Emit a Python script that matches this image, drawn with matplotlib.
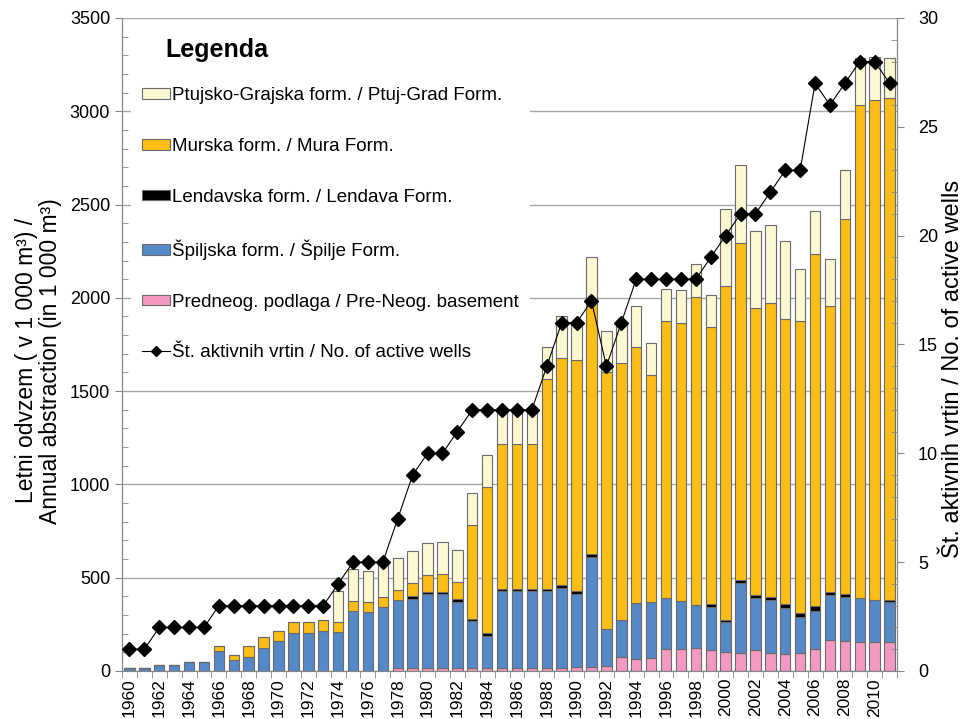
#!/usr/bin/env python

# Annual groundwater abstraction by formation + number of active wells
# stacked bars on the left axis, wells line on the right axis

import numpy as np
import matplotlib
matplotlib.use("Agg")
import matplotlib.pyplot as plt
from matplotlib.patches import Patch
from matplotlib.lines import Line2D
from matplotlib.ticker import MultipleLocator, FixedLocator

plt.rcParams['font.family'] = ['Liberation Sans', 'DejaVu Sans']

years = list(range(1960, 2012))

# abstraction per formation (in 1 000 m3), stacked bottom -> top
pre_neogene = [0, 0, 0, 0, 0, 0, 0, 0, 0, 0,
               0, 0, 0, 0, 0, 0, 0, 0, 18, 18,
               18, 18, 18, 18, 18, 18, 18, 18, 18, 18,
               20, 20, 25, 75, 66, 70, 118, 117, 123, 113,
               104, 98, 112, 99, 90, 94, 119, 164, 162, 156,
               156, 156]
spilje = [18, 18, 34, 34, 47, 50, 108, 59, 77, 124,
          162, 205, 205, 216, 208, 321, 314, 343, 361, 370,
          392, 393, 354, 248, 172, 410, 410, 410, 410, 428,
          391, 591, 199, 196, 299, 299, 271, 256, 233, 230,
          158, 375, 281, 280, 248, 194, 205, 242, 234, 236,
          227, 211]
lendava = [0, 0, 0, 0, 0, 0, 0, 0, 0, 0,
           0, 0, 0, 0, 0, 0, 0, 0, 0, 14,
           14, 14, 13, 14, 14, 14, 14, 14, 14, 13,
           15, 14, 0, 0, 0, 0, 0, 0, 0, 14,
           13, 12, 13, 18, 23, 21, 25, 15, 14, 0,
           0, 14]
mura = [0, 0, 0, 0, 0, 0, 25, 26, 56, 56,
        54, 56, 56, 56, 55, 56, 54, 56, 54, 67,
        92, 95, 93, 504, 782, 776, 776, 776, 1121, 1221,
        1242, 1360, 1377, 1379, 1369, 1215, 1486, 1493, 1650, 1487,
        1788, 1808, 1537, 1573, 1524, 1569, 1887, 1536, 2011, 2640,
        2678, 2691]
ptuj_grad = [0, 0, 0, 0, 0, 0, 0, 0, 0, 0,
             0, 0, 0, 0, 168, 170, 170, 178, 170, 172,
             171, 171, 172, 171, 171, 182, 182, 182, 172, 223,
             190, 234, 222, 210, 222, 174, 173, 174, 174, 173,
             415, 418, 417, 418, 419, 278, 230, 253, 266, 252,
             232, 214]

# number of active wells
wells = [1, 1, 2, 2, 2, 2, 3, 3, 3, 3,
         3, 3, 3, 3, 4, 5, 5, 5, 7, 9,
         10, 10, 11, 12, 12, 12, 12, 12, 14, 16,
         16, 17, 14, 16, 18, 18, 18, 18, 18, 19,
         20, 21, 21, 22, 23, 23, 27, 26, 27, 28,
         28, 27]

series = [
    (pre_neogene, "#F49AC2", "Predneog. podlaga / Pre-Neog. basement"),
    (spilje, "#5689C8", "Špiljska form. / Špilje Form."),
    (lendava, "#000000", "Lendavska form. / Lendava Form."),
    (mura, "#FCBD14", "Murska form. / Mura Form."),
    (ptuj_grad, "#FCF9D2", "Ptujsko-Grajska form. / Ptuj-Grad Form."),
]

fig = plt.figure(figsize=(9.63, 7.19), dpi=100)
ax = fig.add_axes([0.1267, 0.0668, 0.8048, 0.9082])
ax2 = ax.twinx()

edge = "#6A6A6A"
bottom = np.zeros(len(years))
handles = {}
for values, color, label in series:
    ax.bar(years, values, width=0.7, bottom=bottom, color=color,
           edgecolor=edge, linewidth=0.8, zorder=2)
    bottom = bottom + np.array(values)
    handles[label] = Patch(facecolor=color, edgecolor=edge, linewidth=0.8)

ax2.plot(years, wells, color="black", lw=0.8, marker="D", ms=7,
         mfc="black", mec="black", zorder=5)

# left axis
ax.set_ylim(0, 3500)
ax.yaxis.set_major_locator(MultipleLocator(500))
ax.yaxis.set_minor_locator(MultipleLocator(100))
ax.set_axisbelow(True)
ax.grid(axis="y", which="major", color="#A6A6A6", lw=1)
ax.set_ylabel("Letni odvzem ( v 1 000 m³) /\nAnnual abstraction (in 1 000 m³)",
              fontsize=16.5, linespacing=1.05)
ax.yaxis.set_label_coords(-0.078, 0.475)

# right axis
ax2.set_ylim(0, 30)
ax2.yaxis.set_major_locator(MultipleLocator(5))
ax2.yaxis.set_minor_locator(MultipleLocator(1))
ax2.set_ylabel("Št. aktivnih vrtin / No. of active wells", fontsize=17)
ax2.yaxis.set_label_coords(1.058, 0.462)

# x axis: labels every 2nd year, tick marks between categories
ax.set_xlim(years[0] - 0.5, years[-1] + 0.5)
ax.xaxis.set_major_locator(FixedLocator(years[::2]))
ax.set_xticklabels([str(y) for y in years[::2]], rotation=90, fontsize=12.5)
ax.xaxis.set_minor_locator(FixedLocator([y - 0.5 for y in years] + [years[-1] + 0.5]))
ax.tick_params(axis="x", which="major", length=0, pad=5)
ax.tick_params(axis="x", which="minor", length=5, color="#868686", direction="out")

ax.tick_params(axis="y", which="major", labelsize=13, length=5, color="#868686", direction="out")
ax.tick_params(axis="y", which="minor", length=4, color="#868686", direction="in")
ax2.tick_params(axis="y", which="major", labelsize=13, length=5, color="#868686",
                direction="out", pad=10)
ax2.tick_params(axis="y", which="minor", length=4, color="#868686", direction="in")

for a in (ax, ax2):
    a.spines["top"].set_visible(False)
    for s in ("left", "right", "bottom"):
        a.spines[s].set_color("#868686")

# legend (drawn on the top axes so it hides the gridlines behind it)
leg_labels = [series[4][2], series[3][2], series[2][2], series[1][2], series[0][2]]
leg_handles = [handles[l] for l in leg_labels]
leg_handles.append(Line2D([0], [0], color="black", lw=0.8, marker="D", ms=5,
                          mfc="black", mec="black"))
leg_labels.append("Št. aktivnih vrtin / No. of active wells")
leg = ax2.legend(leg_handles, leg_labels, loc="upper left",
                 bbox_to_anchor=(0.004, 0.92), fontsize=13.5,
                 labelspacing=1.8, handlelength=1.5,
                 handleheight=0.5, handletextpad=0.1, borderpad=0.6,
                 borderaxespad=0.3, frameon=True, fancybox=False)
leg.get_frame().set_facecolor("white")
leg.get_frame().set_edgecolor("none")
leg.get_frame().set_alpha(1)

# legend heading
ax2.text(0.0555, 0.951, "Legenda", transform=ax2.transAxes, fontsize=18,
         fontweight="bold", ha="left", va="center", zorder=10)

plt.savefig("out.png", dpi=100)
